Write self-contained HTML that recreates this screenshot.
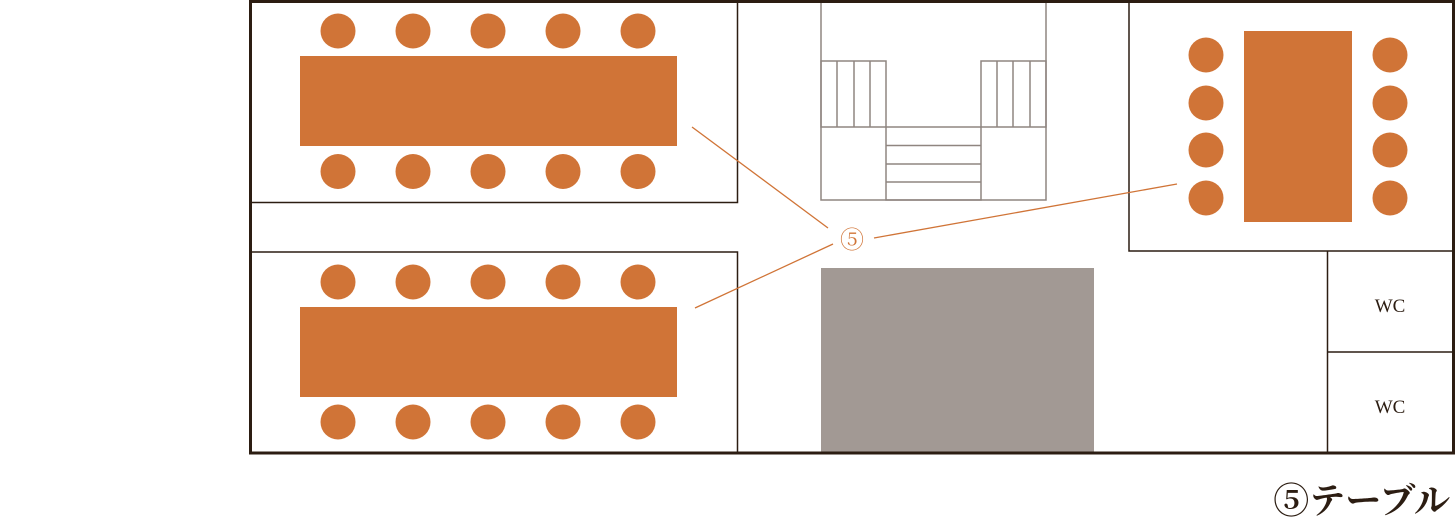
<!DOCTYPE html>
<html><head><meta charset="utf-8"><style>
html,body{margin:0;padding:0;background:#fff;}
svg{display:block;}
</style></head><body>
<svg width="1456" height="531" xmlns="http://www.w3.org/2000/svg">
<g fill="none" stroke="#8f8580" stroke-width="1.5">
<rect x="821" y="1" width="225" height="199"/>
<rect x="821" y="61" width="65" height="66"/>
<line x1="837" y1="61" x2="837" y2="127"/><line x1="854" y1="61" x2="854" y2="127"/><line x1="870" y1="61" x2="870" y2="127"/>
<rect x="981" y="61" width="65" height="66"/>
<line x1="997" y1="61" x2="997" y2="127"/><line x1="1013" y1="61" x2="1013" y2="127"/><line x1="1030" y1="61" x2="1030" y2="127"/>
<rect x="886" y="127" width="95" height="73"/>
<line x1="886" y1="145.5" x2="981" y2="145.5"/><line x1="886" y1="164" x2="981" y2="164"/><line x1="886" y1="182" x2="981" y2="182"/>
</g>
<rect x="821" y="268" width="273" height="185" fill="#a29994"/>
<g fill="none" stroke="#2c1d12" stroke-width="1.5">
<path d="M250 202.5 H737.5 V1"/>
<path d="M250 252 H737.5 V453"/>
<path d="M1129 1 V251 H1454"/>
<path d="M1327.5 251 V453 M1327.5 352 H1454"/>
</g>
<rect x="250.5" y="1.5" width="1203" height="451.5" fill="none" stroke="#2c1d12" stroke-width="3"/>
<g fill="#d07437">
<rect x="300" y="56" width="377" height="90"/>
<rect x="300" y="307" width="377" height="90"/>
<rect x="1244" y="31" width="108" height="191"/>
<circle cx="338" cy="31" r="17.5"/><circle cx="413" cy="31" r="17.5"/><circle cx="488" cy="31" r="17.5"/><circle cx="563" cy="31" r="17.5"/><circle cx="638" cy="31" r="17.5"/>
<circle cx="338" cy="171.5" r="17.5"/><circle cx="413" cy="171.5" r="17.5"/><circle cx="488" cy="171.5" r="17.5"/><circle cx="563" cy="171.5" r="17.5"/><circle cx="638" cy="171.5" r="17.5"/>
<circle cx="338" cy="282" r="17.5"/><circle cx="413" cy="282" r="17.5"/><circle cx="488" cy="282" r="17.5"/><circle cx="563" cy="282" r="17.5"/><circle cx="638" cy="282" r="17.5"/>
<circle cx="338" cy="422" r="17.5"/><circle cx="413" cy="422" r="17.5"/><circle cx="488" cy="422" r="17.5"/><circle cx="563" cy="422" r="17.5"/><circle cx="638" cy="422" r="17.5"/>
<circle cx="1206" cy="55" r="17.5"/><circle cx="1206" cy="103" r="17.5"/><circle cx="1206" cy="150" r="17.5"/><circle cx="1206" cy="198" r="17.5"/>
<circle cx="1390" cy="55" r="17.5"/><circle cx="1390" cy="103" r="17.5"/><circle cx="1390" cy="150" r="17.5"/><circle cx="1390" cy="198" r="17.5"/>
</g>
<g stroke="#d07437" stroke-width="1.3">
<line x1="692" y1="127" x2="828" y2="228"/>
<line x1="695" y1="308" x2="833" y2="244"/>
<line x1="874" y1="238" x2="1177" y2="184"/>
</g>
<text x="852" y="248" font-family="'Liberation Serif','Noto Serif CJK SC',serif" font-size="24" fill="#d07437" text-anchor="middle">⑤</text>
<text x="1390" y="312" font-family="'Liberation Serif',serif" font-size="19" fill="#2c1d12" text-anchor="middle">WC</text>
<text x="1390" y="413" font-family="'Liberation Serif',serif" font-size="19" fill="#2c1d12" text-anchor="middle">WC</text>
<text x="1450" y="513" font-family="'Liberation Serif','Noto Serif CJK SC',serif" font-size="36" font-weight="bold" fill="#2c1d12" text-anchor="end">⑤テーブル</text>
</svg>
</body></html>
